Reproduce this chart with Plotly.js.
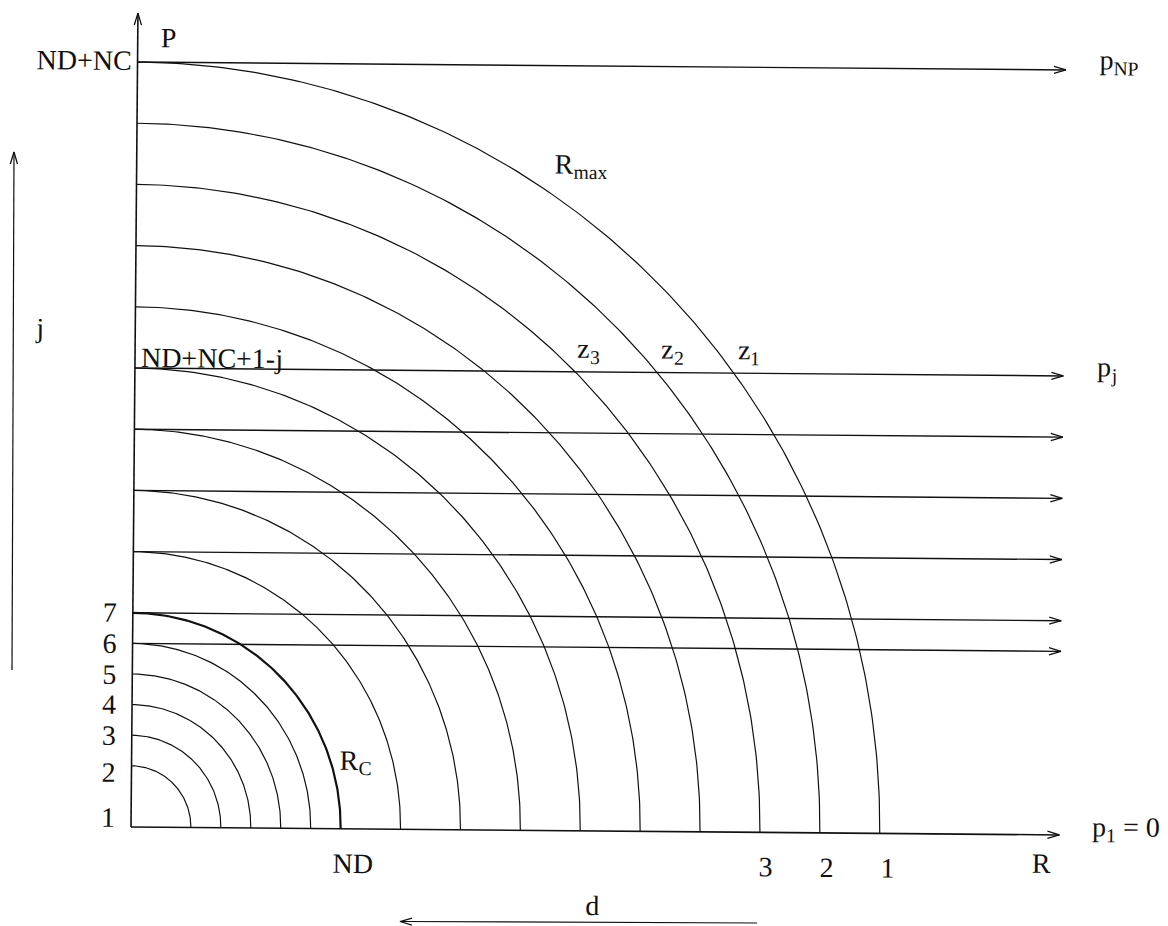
<!DOCTYPE html>
<html>
<head>
<meta charset="utf-8">
<script src="https://cdn.plot.ly/plotly-3.0.1.min.js"></script>
<style>
html,body{margin:0;padding:0;background:#fff;overflow:hidden;}
#chart{width:1168px;height:926px;transform:rotate(0.49deg);transform-origin:131px 827px;}
</style>
</head>
<body>
<div id="chart"></div>
<script>
// ---------------- data ----------------
const innerRadii   = [2, 3, 4, 5, 6, 7];                 // arcs of the index levels 2..7 (R_c = 7)
const outerRadii   = [9, 11, 13, 15, 17, 19, 21, 23, 25]; // outer arcs up to R_max = 25
const rc           = 7;
const rmax         = 25;
const levelLabels  = ['1', '2', '3', '4', '5', '6', '7'];
const levelValues  = [0, 2, 3, 4, 5, 6, 7];
const pLines       = [25, 15, 13, 11, 9, 7, 6];           // horizontal p-lines with arrows
const pEnd         = 31.0;                                // where the arrows end (R direction)
const pTop         = 26.6;                                // top of the P axis
const jLevel       = 15;                                  // level of line p_j
const bottomLabels = ['ND', '3', '2', '1'];
const bottomRadii  = [7, 21, 23, 25];
const zSubs        = ['3', '2', '1'];
const zRadii       = [21, 23, 25];

// ---------------- style ----------------
const W = 1168, H = 926;
const X0 = 131, Y0 = 827, SX = 29.95, SY = 30.6;   // origin in px and px per unit
const TH = 0.49 * Math.PI / 180;                     // page tilt (matches the scanned original)
const INK = '#111';
const FAM = '"Liberation Serif","Times New Roman",serif';
const FS = 28, SUBFS = 19.6;
const FONT = {family: FAM, size: FS, color: INK};
const SUBFONT = {family: FAM, size: SUBFS, color: INK};
const ADV = {p: 0.5, R: 0.667, z: 0.444, '1': 0.5};   // glyph advances (em)
const levelShift  = [9.5, -7, 0, 0, 0, 0, 0];
const bottomShift = [12, 6, 7, 8];
const zShift      = [1, 3, 3];

// measured (tilted) pixel -> untilted pixel
function unrot(mx, my) {
  const dx = mx - X0, dy = my - Y0, c = Math.cos(TH), s = Math.sin(TH);
  return [X0 + dx * c + dy * s, Y0 - dx * s + dy * c];
}
const dX = p => (p - X0) / SX;
const dY = p => (Y0 - p) / SY;

// ---------------- traces ----------------
const traces = [];
function line(xs, ys, w) {
  traces.push({type: 'scatter', mode: 'lines', x: xs, y: ys,
    line: {color: INK, width: w}, hoverinfo: 'skip', showlegend: false});
}
function arc(r, w) {
  const xs = [], ys = [];
  for (let k = 0; k <= 180; k++) {
    const a = k * Math.PI / 360;
    xs.push(r * Math.cos(a)); ys.push(r * Math.sin(a));
  }
  line(xs, ys, w);
}
// open arrow head, built in pixel space around a tip given in data units
function head(tx, ty, ux, uy) {
  const L = 12, Wd = 3.6;
  const tpx = X0 + tx * SX, tpy = Y0 - ty * SY;
  const nx = -uy, ny = ux;
  const ax = tpx - L * ux + Wd * nx, ay = tpy - L * uy + Wd * ny;
  const bx = tpx - L * ux - Wd * nx, by = tpy - L * uy - Wd * ny;
  line([dX(ax), tx, dX(bx)], [dY(ay), ty, dY(by)], 1.3);
}

innerRadii.forEach(r => arc(r, r === rc ? 2.2 : 1.2));
outerRadii.forEach(r => arc(r, 1.2));

// horizontal p-lines (incl. p_1 = 0 axis)
[0].concat(pLines).forEach(v => {
  line([0, pEnd], [v, v], v === 0 ? 1.6 : 1.4);
  head(pEnd, v, 1, 0);
});
// P axis
line([0, 0], [0, pTop], 1.6);
head(0, pTop, 0, -1);

// j arrow (left) and d arrow (bottom)
(function () {
  const a = unrot(12, 670), b = unrot(14, 152);
  line([dX(a[0]), dX(b[0])], [dY(a[1]), dY(b[1])], 1.2);
  head(dX(b[0]), dY(b[1]), 0, -1);
  const c = unrot(757, 923), d = unrot(400, 921.5);
  line([dX(c[0]), dX(d[0])], [dY(c[1]), dY(d[1])], 1.2);
  head(dX(d[0]), dY(d[1]), -1, 0);
})();

// ---------------- annotations ----------------
const ann = [];
function label(text, mx, my, xanchor, font) {
  const p = unrot(mx, my);
  ann.push({xref: 'paper', yref: 'paper', x: p[0] / W, y: 1 - p[1] / H, text: text, showarrow: false,
    xanchor: xanchor || 'left', yanchor: 'middle', font: font || FONT, borderpad: 0});
}
// main glyph + subscript (+ optional tail text), cy = centre of the whole group
function subLabel(main, sub, tail, mx, cy) {
  const base = cy + 7.4;
  label(main, mx, base - 9.45);
  const sx = mx + ADV[main] * FS;
  label(sub, sx, base + 5.9 - 6.6, 'left', SUBFONT);
  if (tail) {
    let w = 0;
    for (const ch of sub) w += (ADV[ch] || 0.5) * SUBFS;
    label(tail, sx + w, base - 9.45);
  }
}
label('P', 160, 37.5);
label('ND+NC', 133, 60.5, 'right');
subLabel('p', 'NP', '', 1099, 62);
subLabel('R', 'max', '', 554, 166);
label('j', 34, 327.5);
label('ND+NC+1-j', 140, 357.5);
subLabel('p', 'j', '', 1096, 369);
subLabel('R', 'C', '', 339, 762);
label('R', 1031, 863.5);
subLabel('p', '1', '\u00a0= 0', 1091, 829);
label('d', 592.5, 905.5, 'center');

levelLabels.forEach((t, i) => {
  ann.push({xref: 'x', yref: 'y', x: 0, y: levelValues[i], text: t, showarrow: false,
    xanchor: 'right', yanchor: 'middle', xshift: -15, yshift: levelShift[i], font: FONT, borderpad: 0});
});
bottomLabels.forEach((t, i) => {
  ann.push({xref: 'x', yref: 'y', x: bottomRadii[i], y: 0, text: t, showarrow: false,
    xanchor: 'center', yanchor: 'middle', xshift: bottomShift[i], yshift: -34, font: FONT, borderpad: 0});
});
zSubs.forEach((t, i) => {
  const r = zRadii[i];
  const xc = Math.sqrt(r * r - jLevel * jLevel);
  // centre of the group sits 21 px above the line; baseline = centre + 7.4
  const base = 21 - 7.4;
  ann.push({xref: 'x', yref: 'y', x: xc, y: jLevel, text: 'z', showarrow: false,
    xanchor: 'left', yanchor: 'middle', xshift: zShift[i], yshift: base + 9.45,
    font: FONT, borderpad: 0});
  ann.push({xref: 'x', yref: 'y', x: xc, y: jLevel, text: t, showarrow: false,
    xanchor: 'left', yanchor: 'middle', xshift: zShift[i] + ADV.z * FS, yshift: base - 5.9 + 6.6,
    font: SUBFONT, borderpad: 0});
});

const layout = {
  width: W, height: H, autosize: false,
  margin: {l: 0, r: 0, t: 0, b: 0, pad: 0},
  paper_bgcolor: 'rgba(0,0,0,0)', plot_bgcolor: 'rgba(0,0,0,0)',
  showlegend: false,
  xaxis: {range: [-X0 / SX, (W - X0) / SX], visible: false, fixedrange: true},
  yaxis: {range: [(Y0 - H) / SY, Y0 / SY], visible: false, fixedrange: true},
  annotations: ann
};

Plotly.newPlot('chart', traces, layout, {staticPlot: true, displayModeBar: false});
</script>
</body>
</html>
